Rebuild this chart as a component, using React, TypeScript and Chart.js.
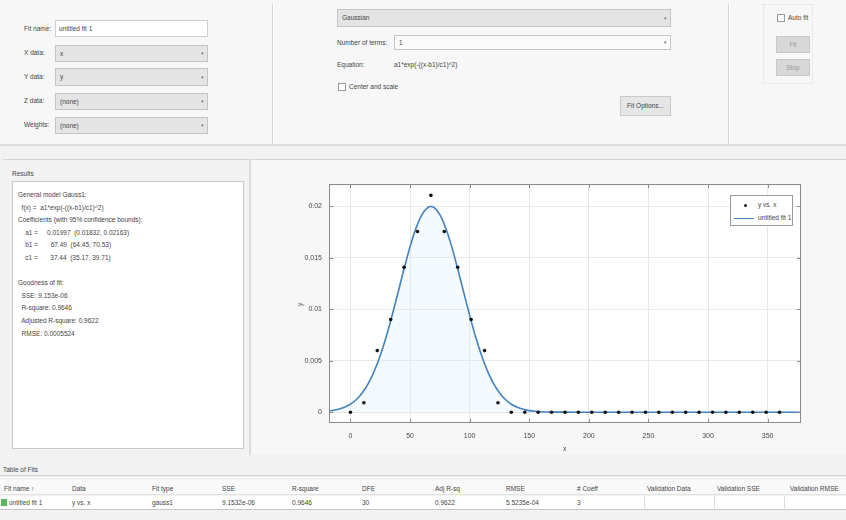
import React, { useEffect, useRef } from "react";
import { Chart, registerables } from "chart.js";

Chart.register(...registerables);

// ---------- data ----------
const xData = [0, 11.25, 22.5, 33.75, 45, 56.25, 67.5, 78.75, 90, 101.25, 112.5, 123.75, 135, 146.25, 157.5, 168.75, 180, 191.25, 202.5, 213.75, 225, 236.25, 247.5, 258.75, 270, 281.25, 292.5, 303.75, 315, 326.25, 337.5, 348.75, 360];
const yData = [0.0, 0.00091, 0.00598, 0.009, 0.01407, 0.01754, 0.02105, 0.01754, 0.01407, 0.009, 0.00598, 0.00091, 0.0, 0.0, 0.0, 0.0, 0.0, 0.0, 0.0, 0.0, 0.0, 0.0, 0.0, 0.0, 0.0, 0.0, 0.0, 0.0, 0.0, 0.0, 0.0, 0.0, 0.0];

const fitX = [-18, -10, -5, 0, 5, 10, 15, 20, 25, 30, 35, 40, 45, 50, 55, 60, 65, 67.5, 70, 75, 80, 85, 90, 95, 100, 105, 110, 115, 120, 125, 130, 135, 140, 145, 150, 155, 160, 165, 180, 200, 250, 300, 378];
const fitY = [0.000109, 0.000275, 0.00047, 0.000775, 0.001232, 0.00189, 0.002798, 0.003996, 0.005508, 0.007327, 0.009404, 0.011649, 0.013921, 0.016056, 0.017867, 0.019187, 0.019882, 0.01997, 0.01988, 0.019183, 0.017861, 0.016048, 0.013911, 0.011639, 0.009396, 0.007319, 0.005502, 0.00399, 0.002794, 0.001886, 0.00123, 0.000773, 0.000469, 0.000275, 0.000155, 0.0000847, 0.0000445, 0.0000226, 0.0000024, 0, 0, 0, 0];

const xTicks = [0, 50, 100, 150, 200, 250, 300, 350];
const yTicks = [0, 0.005, 0.01, 0.015, 0.02];
const yTickLabels = ["0", "0.005", "0.01", "0.015", "0.02"];

const resultsLines = [
  "General model Gauss1:",
  "  f(x) =  a1*exp(-((x-b1)/c1)^2)",
  "Coefficients (with 95% confidence bounds):",
  "    a1 =     0.01997  (0.01832, 0.02163)",
  "    b1 =       67.49  (64.45, 70.53)",
  "    c1 =       37.44  (35.17, 39.71)",
  "",
  "Goodness of fit:",
  "  SSE: 9.153e-06",
  "  R-square: 0.9646",
  "  Adjusted R-square: 0.9622",
  "  RMSE: 0.0005524",
];

const tableHeaders = ["Fit name \u2191", "Data", "Fit type", "SSE", "R-square", "DFE", "Adj R-sq", "RMSE", "# Coeff", "Validation Data", "Validation SSE", "Validation RMSE"];
const tableRow = ["untitled fit 1", "y vs. x", "gauss1", "9.1532e-06", "0.9646", "30", "0.9622", "5.5235e-04", "3", "", "", ""];
const tableColX = [4, 72, 152, 222, 292, 362, 435, 506, 577, 647, 717, 790];

// ---------- styles ----------
const FONT = "'Liberation Sans', Arial, sans-serif";
const TXT = "#444444";

const abs = (l: number, t: number, w?: number, h?: number): React.CSSProperties => ({
  position: "absolute",
  left: l,
  top: t,
  width: w,
  height: h,
  boxSizing: "border-box",
});

function Txt({ x, y, children, size = 6.5, color = TXT }: { x: number; y: number; children: React.ReactNode; size?: number; color?: string }) {
  return (
    <div style={{ ...abs(x, y - size * 0.65), fontSize: size, lineHeight: `${size * 1.3}px`, color, whiteSpace: "pre" }}>{children}</div>
  );
}

function Drop({ x, y, w, h, text, white }: { x: number; y: number; w: number; h: number; text: string; white?: boolean }) {
  return (
    <div style={{ ...abs(x, y, w, h), background: white ? "#fafafa" : "#e4e4e4", border: "1px solid #c4c4c4" }}>
      <div style={{ position: "absolute", left: 4, top: 0, lineHeight: `${h - 2}px`, fontSize: 6.5, color: TXT, whiteSpace: "pre" }}>{text}</div>
      <div style={{ position: "absolute", right: 3, top: 0, lineHeight: `${h - 2}px`, fontSize: 5, color: "#777" }}>{"\u25BE"}</div>
    </div>
  );
}

function Btn({ x, y, w, h, text, disabled }: { x: number; y: number; w: number; h: number; text: string; disabled?: boolean }) {
  return (
    <div style={{ ...abs(x, y, w, h), background: disabled ? "#d8d8d8" : "#e6e6e6", border: "1px solid #c8c8c8", textAlign: "center", lineHeight: `${h - 2}px`, fontSize: 6.5, color: disabled ? "#9a9a9a" : TXT }}>{text}</div>
  );
}

function Check({ x, y, text }: { x: number; y: number; text: string }) {
  return (
    <>
      <div style={{ ...abs(x, y - 4, 8, 8), border: "1px solid #9a9a9a", background: "#fff" }} />
      <Txt x={x + 11} y={y}>{text}</Txt>
    </>
  );
}

// ---------- chart ----------
function FitChart() {
  const ref = useRef<HTMLCanvasElement | null>(null);
  useEffect(() => {
    if (!ref.current) return;
    const axisFont = { family: FONT, size: 7 };
    const boxPlugin = {
      id: "matlabBox",
      beforeDraw(chart: any) {
        const { ctx, chartArea: a } = chart;
        ctx.save();
        ctx.fillStyle = "#ffffff";
        ctx.fillRect(a.left, a.top, a.right - a.left, a.bottom - a.top);
        ctx.restore();
      },
      afterDraw(chart: any) {
        const { ctx, chartArea: a, scales } = chart;
        ctx.save();
        ctx.strokeStyle = "#8a8a8a";
        ctx.lineWidth = 1;
        ctx.strokeRect(a.left + 0.5, a.top + 0.5, a.right - a.left - 1, a.bottom - a.top - 1);
        ctx.beginPath();
        const tl = 4;
        for (const v of xTicks) {
          const px = Math.round(scales.x.getPixelForValue(v)) + 0.5;
          ctx.moveTo(px, a.bottom);
          ctx.lineTo(px, a.bottom - tl);
          ctx.moveTo(px, a.top);
          ctx.lineTo(px, a.top + tl);
        }
        for (const v of yTicks) {
          const py = Math.round(scales.y.getPixelForValue(v)) + 0.5;
          ctx.moveTo(a.left, py);
          ctx.lineTo(a.left + tl, py);
          ctx.moveTo(a.right, py);
          ctx.lineTo(a.right - tl, py);
        }
        ctx.stroke();
        ctx.restore();
      },
    };
    const chart = new Chart(ref.current, {
      type: "scatter",
      data: {
        datasets: [
          {
            label: "y vs. x",
            data: xData.map((x, i) => ({ x, y: yData[i] })),
            backgroundColor: "#111111",
            borderColor: "#111111",
            pointRadius: 1.8,
            pointHoverRadius: 1.8,
            pointBorderWidth: 0,
            showLine: false,
            order: 0,
          },
          {
            label: "untitled fit 1",
            data: fitX.map((x, i) => ({ x, y: fitY[i] })),
            showLine: true,
            borderColor: "#4382bd",
            borderWidth: 1.6,
            pointRadius: 0,
            cubicInterpolationMode: "monotone",
            fill: "origin",
            backgroundColor: "rgba(210,235,248,0.25)",
            order: 1,
          } as any,
        ],
      },
      options: {
        responsive: false,
        animation: false,
        devicePixelRatio: 1,
        layout: { padding: { top: 24, right: 45, left: 0, bottom: 0 } },
        plugins: { legend: { display: false }, tooltip: { enabled: false } },
        scales: {
          x: {
            type: "linear",
            min: -18,
            max: 378,
            afterBuildTicks: (s: any) => {
              s.ticks = xTicks.map((v) => ({ value: v }));
            },
            afterFit: (s: any) => {
              s.height = 29;
            },
            grid: { color: "#e8e8e8", drawTicks: false },
            border: { display: false },
            ticks: { padding: 9, font: axisFont, color: "#4a4a4a", maxRotation: 0, callback: (v: any) => String(v) },
          },
          y: {
            type: "linear",
            min: -0.00105,
            max: 0.02215,
            afterBuildTicks: (s: any) => {
              s.ticks = yTicks.map((v) => ({ value: v }));
            },
            afterFit: (s: any) => {
              s.width = 79;
            },
            grid: { color: "#e8e8e8", drawTicks: false },
            border: { display: false },
            ticks: { padding: 7, font: axisFont, color: "#4a4a4a", callback: (_v: any, i: number) => yTickLabels[i] },
          },
        },
      },
      plugins: [boxPlugin],
    } as any);
    return () => chart.destroy();
  }, []);
  return <canvas ref={ref} width={596} height={292} style={{ position: "absolute", left: 0, top: 0, width: 596, height: 292 }} />;
}

export default function App() {
  return (
    <div style={{ ...abs(0, 0, 846, 520), background: "#f2f2f2", fontFamily: FONT, overflow: "hidden" }}>
      {/* top section */}
      <div style={{ ...abs(0, 0, 846, 146), background: "#f7f7f7", borderBottom: "2px solid #dedede" }} />
      <div style={{ ...abs(272, 4, 2, 140), borderLeft: "1px solid #d4d4d4", borderRight: "1px solid #ffffff" }} />
      <div style={{ ...abs(728, 4, 2, 140), borderLeft: "1px solid #d4d4d4", borderRight: "1px solid #ffffff" }} />

      {/* left controls */}
      <Txt x={24} y={29}>Fit name:</Txt>
      <div style={{ ...abs(55, 20, 153, 17), background: "#ffffff", border: "1px solid #cfcfcf" }}>
        <div style={{ position: "absolute", left: 3, top: 0, lineHeight: "15px", fontSize: 6.5, color: TXT }}>untitled fit 1</div>
      </div>
      <Txt x={24} y={53}>X data:</Txt>
      <Drop x={55} y={45} w={153} h={17} text="x" />
      <Txt x={24} y={77}>Y data:</Txt>
      <Drop x={55} y={68} w={153} h={18} text="y" />
      <Txt x={24} y={101}>Z data:</Txt>
      <Drop x={55} y={93} w={153} h={17} text="(none)" />
      <Txt x={24} y={125}>Weights:</Txt>
      <Drop x={55} y={117} w={153} h={17} text="(none)" />

      {/* middle controls */}
      <Drop x={337} y={9} w={334} h={18} text="Gaussian" />
      <Txt x={337} y={43}>Number of terms:</Txt>
      <Drop x={394} y={35} w={277} h={15} text="1" white />
      <Txt x={337} y={65}>Equation:</Txt>
      <Txt x={394} y={65}>a1*exp(-((x-b1)/c1)^2)</Txt>
      <Check x={338} y={87} text="Center and scale" />
      <Btn x={620} y={96} w={51} h={20} text="Fit Options..." />

      {/* right controls */}
      <div style={{ ...abs(763, 4, 50, 80), border: "1px dotted #e0e0e0" }} />
      <Check x={777} y={18} text="Auto fit" />
      <Btn x={776} y={36} w={34} h={17} text="Fit" disabled />
      <Btn x={776} y={59} w={34} h={17} text="Stop" disabled />

      {/* results panel */}
      <div style={{ ...abs(3, 159, 247, 298), borderTop: "1px solid #d6d6d6", borderRight: "1px solid #dedede" }} />
      <Txt x={12} y={174}>Results</Txt>
      <div style={{ ...abs(12, 181, 232, 268), background: "#ffffff", border: "1px solid #c8c8c8" }}>
        {resultsLines.map((l, i) => (
          <div key={i} style={{ position: "absolute", left: 5, top: 9 + i * 12.6, fontSize: 6.5, lineHeight: "8px", color: TXT, whiteSpace: "pre" }}>{l}</div>
        ))}
      </div>

      {/* plot panel */}
      <div style={{ ...abs(250, 159, 596, 295), background: "#f7f7f7", borderTop: "1px solid #d6d6d6", borderLeft: "1px solid #d6d6d6" }} />
      <div style={{ ...abs(250, 160, 596, 292) }}>
        <FitChart />
        {/* axis labels */}
        <div style={{ position: "absolute", left: 48, top: 141, fontSize: 7, color: "#4a4a4a", transform: "rotate(-90deg)" }}>y</div>
        <div style={{ position: "absolute", left: 313, top: 285, fontSize: 7, color: "#4a4a4a", lineHeight: "8px" }}>x</div>
        {/* legend */}
        <div style={{ ...abs(480, 35, 63, 31), background: "#ffffff", border: "1px solid #9a9a9a" }}>
          <div style={{ position: "absolute", left: 13, top: 8, width: 3, height: 3, borderRadius: 2, background: "#111" }} />
          <div style={{ position: "absolute", left: 27, top: 5, fontSize: 6.5, lineHeight: "8px", color: TXT }}>y vs. x</div>
          <div style={{ position: "absolute", left: 3, top: 22, width: 20, height: 0, borderTop: "1.5px solid #4382bd" }} />
          <div style={{ position: "absolute", left: 27, top: 18, fontSize: 6.5, lineHeight: "8px", color: TXT }}>untitled fit 1</div>
        </div>
      </div>

      {/* table of fits */}
      <Txt x={3} y={470}>Table of Fits</Txt>
      <div style={{ ...abs(0, 475, 846, 3), borderTop: "1px solid #d0d0d0", borderBottom: "1px solid #ffffff" }} />
      <div style={{ ...abs(0, 480, 846, 15), background: "#f9f9f9", borderBottom: "1px solid #e2e2e2" }} />
      <div style={{ ...abs(0, 496, 846, 14), background: "#ffffff", borderBottom: "1px solid #c6c6c6" }} />
      {tableHeaders.map((h, i) => (
        <Txt key={"h" + i} x={tableColX[i]} y={489}>{h}</Txt>
      ))}
      <div style={{ ...abs(1, 499, 6, 7), background: "#5bb55b" }} />
      {tableRow.map((c, i) => (
        <Txt key={"r" + i} x={i === 0 ? tableColX[i] + 5 : tableColX[i]} y={503}>{c}</Txt>
      ))}
      {[644, 714, 784].map((x) => (
        <div key={x} style={{ ...abs(x, 496, 1, 14), background: "#dddddd" }} />
      ))}
    </div>
  );
}
